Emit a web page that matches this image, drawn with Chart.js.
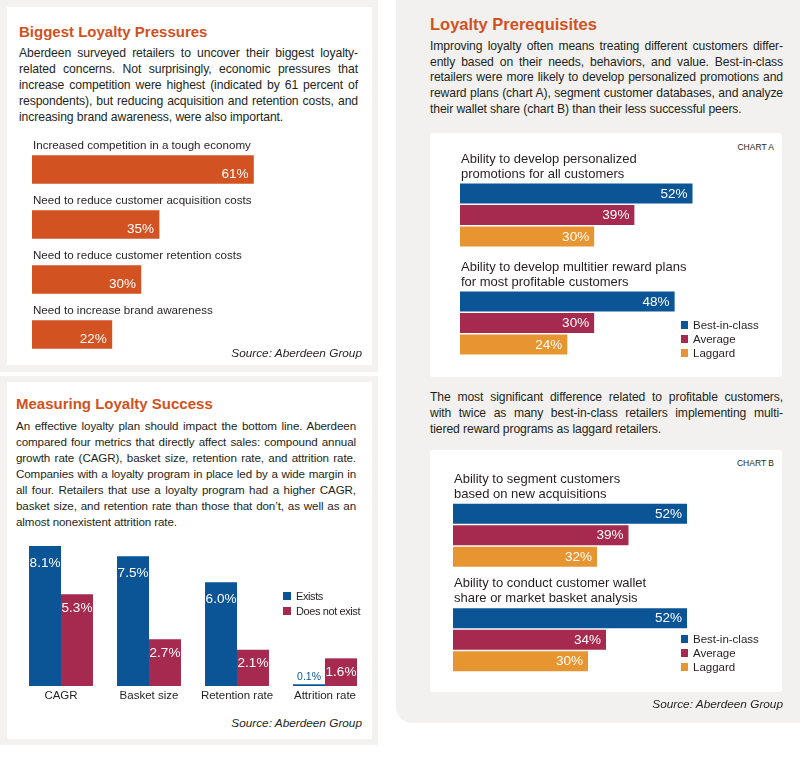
<!DOCTYPE html>
<html lang="en">
<head>
<meta charset="UTF-8">
<title>Loyalty Programs</title>
<script src="https://cdn.jsdelivr.net/npm/chart.js@4.4.0/dist/chart.umd.min.js"></script>
<style>
    body {
        margin: 0;
        background: #fff;
        font-family: 'Liberation Sans', Arial, Helvetica, sans-serif;
        color: #231f20;
    }
    #page { position: relative; width: 800px; height: 762px; overflow: hidden; }
    .abs { position: absolute; }
    .frame { background: #f3f2f0; }
    .white { background: #fff; }
    .title { color: #d0521e; font-weight: bold; white-space: nowrap; }
    .body div { text-align: justify; text-align-last: justify; }
    .body div.last { text-align: left; text-align-last: left; }
    .source { font-style: italic; font-size: 11.8px; line-height: 16px; text-align: right; white-space: nowrap; }
    .tag { font-size: 8.5px; line-height: 12px; text-align: right; }
    .legend { font-size: 11.5px; line-height: 14px; white-space: nowrap; }
    .legend span { display: inline-block; width: 7px; height: 8px; margin-right: 5px; vertical-align: -0px; }
    canvas { position: absolute; }
</style>
</head>
<body>
<div id="page">
    <!-- left column, top panel -->
    <div class="abs frame" style="left:0;top:0;width:378px;height:372px"></div>
    <div class="abs white" style="left:7px;top:7px;width:365px;height:358px"></div>
    <div class="abs title" style="left:19px;top:23px;font-size:15px;line-height:18px">Biggest Loyalty Pressures</div>
    <div class="abs body" style="left:19px;top:45px;width:339px;font-size:12.2px;line-height:16px;letter-spacing:-0.1px">
        <div>Aberdeen surveyed retailers to uncover their biggest loyalty-</div>
        <div>related concerns. Not surprisingly, economic pressures that</div>
        <div>increase competition were highest (indicated by 61 percent of</div>
        <div>respondents), but reducing acquisition and retention costs, and</div>
        <div class="last">increasing brand awareness, were also important.</div>
    </div>
    <canvas id="pressureChart" width="330" height="232" style="left:32px;top:130px"></canvas>
    <div class="abs source" style="right:438px;top:345px">Source: Aberdeen Group</div>

    <!-- left column, bottom panel -->
    <div class="abs frame" style="left:0;top:376px;width:378px;height:369px"></div>
    <div class="abs white" style="left:7px;top:382px;width:365px;height:357px"></div>
    <div class="abs title" style="left:16px;top:395px;font-size:15px;line-height:18px">Measuring Loyalty Success</div>
    <div class="abs body" style="left:16px;top:418px;width:340px;font-size:11.6px;line-height:16px;letter-spacing:-0.1px">
        <div>An effective loyalty plan should impact the bottom line. Aberdeen</div>
        <div>compared four metrics that directly affect sales: compound annual</div>
        <div>growth rate (CAGR), basket size, retention rate, and attrition rate.</div>
        <div>Companies with a loyalty program in place led by a wide margin in</div>
        <div>all four. Retailers that use a loyalty program had a higher CAGR,</div>
        <div>basket size, and retention rate than those that don’t, as well as an</div>
        <div class="last">almost nonexistent attrition rate.</div>
    </div>
    <canvas id="successChart" width="352" height="180" style="left:17px;top:530px"></canvas>
    <div class="abs legend" style="left:283px;top:589px;font-size:11px;line-height:15px;letter-spacing:-0.4px">
        <div><span style="background:#0b5597;width:8px"></span>Exists</div>
        <div><span style="background:#a62a4f;width:8px"></span>Does not exist</div>
    </div>
    <div class="abs source" style="right:438px;top:715px">Source: Aberdeen Group</div>

    <!-- right column -->
    <div class="abs frame" style="left:396px;top:0;width:404px;height:723px;background:#f2f1ef;border-bottom-left-radius:16px"></div>
    <div class="abs title" style="left:430px;top:14px;font-size:16.5px;line-height:20px">Loyalty Prerequisites</div>
    <div class="abs body" style="left:430px;top:39px;width:353px;font-size:12.15px;line-height:15.7px;letter-spacing:-0.1px">
        <div>Improving loyalty often means treating different customers differ-</div>
        <div>ently based on their needs, behaviors, and value. Best-in-class</div>
        <div>retailers were more likely to develop personalized promotions and</div>
        <div>reward plans (chart A), segment customer databases, and analyze</div>
        <div class="last">their wallet share (chart B) than their less successful peers.</div>
    </div>

    <div class="abs white" style="left:430px;top:133px;width:352px;height:244px;border-radius:3px"></div>
    <div class="abs tag" style="right:26px;top:141px">CHART A</div>
    <canvas id="chartA" width="313" height="244" style="left:460px;top:133px"></canvas>
    <div class="abs legend" style="left:681px;top:318px">
        <div><span style="background:#0b5597"></span>Best-in-class</div>
        <div><span style="background:#a62a4f"></span>Average</div>
        <div><span style="background:#e69530"></span>Laggard</div>
    </div>

    <div class="abs body" style="left:430px;top:389px;width:353px;font-size:12.15px;line-height:16px;letter-spacing:-0.1px">
        <div>The most significant difference related to profitable customers,</div>
        <div>with twice as many best-in-class retailers implementing multi-</div>
        <div class="last">tiered reward programs as laggard retailers.</div>
    </div>

    <div class="abs white" style="left:430px;top:450px;width:352px;height:242px;border-radius:3px"></div>
    <div class="abs tag" style="right:26px;top:457px">CHART B</div>
    <canvas id="chartB" width="315" height="242" style="left:453px;top:450px"></canvas>
    <div class="abs legend" style="left:681px;top:632px">
        <div><span style="background:#0b5597"></span>Best-in-class</div>
        <div><span style="background:#a62a4f"></span>Average</div>
        <div><span style="background:#e69530"></span>Laggard</div>
    </div>
    <div class="abs source" style="right:17px;top:696px">Source: Aberdeen Group</div>
</div>

<script>
    // --- Data ---
    const pressureLabels = [
        'Increased competition in a tough economy',
        'Need to reduce customer acquisition costs',
        'Need to reduce customer retention costs',
        'Need to increase brand awareness'
    ];
    const pressureValues = [61, 35, 30, 22];

    const metricLabels = ['CAGR', 'Basket size', 'Retention rate', 'Attrition rate'];
    const existsValues = [8.1, 7.5, 6.0, 0.1];
    const notExistValues = [5.3, 2.7, 2.1, 1.6];

    const tierNames = ['Best-in-class', 'Average', 'Laggard'];
    const chartALabels = [
        ['Ability to develop personalized', 'promotions for all customers'],
        ['Ability to develop multitier reward plans', 'for most profitable customers']
    ];
    const chartABest = [52, 48];
    const chartAAverage = [39, 30];
    const chartALaggard = [30, 24];

    const chartBLabels = [
        ['Ability to segment customers', 'based on new acquisitions'],
        ['Ability to conduct customer wallet', 'share or market basket analysis']
    ];
    const chartBBest = [52, 52];
    const chartBAverage = [39, 34];
    const chartBLaggard = [32, 30];

    // --- Colours ---
    const BLUE = '#0b5597';
    const RED = '#a62a4f';
    const AMBER = '#e69530';
    const ORANGE = '#d35221';
    const FONT = "'Liberation Sans', Arial, Helvetica, sans-serif";

    Chart.defaults.font.family = FONT;
    Chart.defaults.color = '#231f20';
    Chart.defaults.animation = false;

    // category text above each group, value text inside the bar end
    const hBarText = {
        id: 'hBarText',
        afterDatasetsDraw(chart, args, o) {
            const ctx = chart.ctx;
            const first = chart.getDatasetMeta(0).data;
            ctx.save();
            ctx.textBaseline = 'middle';
            ctx.textAlign = 'left';
            ctx.fillStyle = '#231f20';
            ctx.font = o.labelFont;
            chart.data.labels.forEach((lab, i) => {
                const lines = [].concat(lab);
                const top = first[i].y - first[i].height / 2;
                lines.forEach((ln, k) => {
                    const y = top - o.labelGap - (lines.length - 1 - k) * o.lineGap;
                    ctx.fillText(ln, chart.chartArea.left + 1, y);
                });
            });
            ctx.font = o.valueFont;
            ctx.fillStyle = '#fff';
            ctx.textAlign = 'right';
            chart.data.datasets.forEach((ds, di) => {
                chart.getDatasetMeta(di).data.forEach((bar, i) => {
                    ctx.fillText(ds.data[i] + '%', bar.x - 5, bar.y + o.valueDy);
                });
            });
            ctx.restore();
        }
    };

    // values at the top of the columns (above the column when it is too short)
    const vBarText = {
        id: 'vBarText',
        afterDatasetsDraw(chart) {
            const ctx = chart.ctx;
            ctx.save();
            ctx.textAlign = 'center';
            ctx.textBaseline = 'middle';
            chart.data.datasets.forEach((ds, di) => {
                chart.getDatasetMeta(di).data.forEach((bar, i) => {
                    const txt = ds.data[i].toFixed(1) + '%';
                    if (bar.base - bar.y < 20) {
                        ctx.font = '10.5px ' + FONT;
                        ctx.fillStyle = ds.backgroundColor;
                        ctx.fillText(txt, bar.x, bar.y - 7);
                    } else {
                        ctx.font = '13.5px ' + FONT;
                        ctx.fillStyle = '#fff';
                        ctx.fillText(txt, bar.x, bar.y + (di === 0 ? 17 : 14));
                    }
                });
            });
            ctx.restore();
        }
    };

    const noChrome = { legend: { display: false }, tooltip: { enabled: false } };

    // --- Biggest loyalty pressures ---
    new Chart(document.getElementById('pressureChart'), {
        type: 'bar',
        data: {
            labels: pressureLabels,
            datasets: [{ data: pressureValues, backgroundColor: ORANGE, barThickness: 28 }]
        },
        options: {
            indexAxis: 'y',
            responsive: false,
            layout: { padding: { top: 12 } },
            scales: {
                x: { display: false, min: 0, max: 90.9 },
                y: { display: false }
            },
            plugins: Object.assign({}, noChrome, {
                hBarText: { labelFont: '11.6px ' + FONT, labelGap: 10, lineGap: 15, valueFont: '13.5px ' + FONT, valueDy: 5 }
            })
        },
        plugins: [hBarText]
    });

    // --- Measuring loyalty success ---
    new Chart(document.getElementById('successChart'), {
        type: 'bar',
        data: {
            labels: metricLabels,
            datasets: [
                { label: 'Exists', data: existsValues, backgroundColor: BLUE, categoryPercentage: 0.727, barPercentage: 1 },
                { label: 'Does not exist', data: notExistValues, backgroundColor: RED, categoryPercentage: 0.727, barPercentage: 1 }
            ]
        },
        options: {
            responsive: false,
            layout: { padding: { top: 9 } },
            scales: {
                x: {
                    grid: { display: false, drawTicks: false },
                    border: { display: false },
                    ticks: { font: { size: 11.5 }, padding: 3, color: '#231f20', maxRotation: 0 },
                    afterFit(scale) { scale.height = 24; }
                },
                y: { display: false, min: 0, max: 8.5 }
            },
            plugins: noChrome
        },
        plugins: [vBarText]
    });

    // --- Charts A and B ---
    function tierChart(id, labels, best, avg, lag, padTop, catPct) {
        const common = { categoryPercentage: catPct, barPercentage: 0.93 };
        return new Chart(document.getElementById(id), {
            type: 'bar',
            data: {
                labels: labels,
                datasets: [
                    Object.assign({ label: tierNames[0], data: best, backgroundColor: BLUE }, common),
                    Object.assign({ label: tierNames[1], data: avg, backgroundColor: RED }, common),
                    Object.assign({ label: tierNames[2], data: lag, backgroundColor: AMBER }, common)
                ]
            },
            options: {
                indexAxis: 'y',
                responsive: false,
                layout: { padding: { top: padTop } },
                scales: {
                    x: { display: false, min: 0, max: 70 },
                    y: { display: false }
                },
                plugins: Object.assign({}, noChrome, {
                    hBarText: { labelFont: '13px ' + FONT, labelGap: 9.5, lineGap: 15, valueFont: '13.5px ' + FONT, valueDy: 0.5 }
                })
            },
            plugins: [hBarText]
        });
    }

    tierChart('chartA', chartALabels, chartABest, chartAAverage, chartALaggard, 28, 0.597);
    tierChart('chartB', chartBLabels, chartBBest, chartBAverage, chartBLaggard, 33, 0.617);
</script>
</body>
</html>
